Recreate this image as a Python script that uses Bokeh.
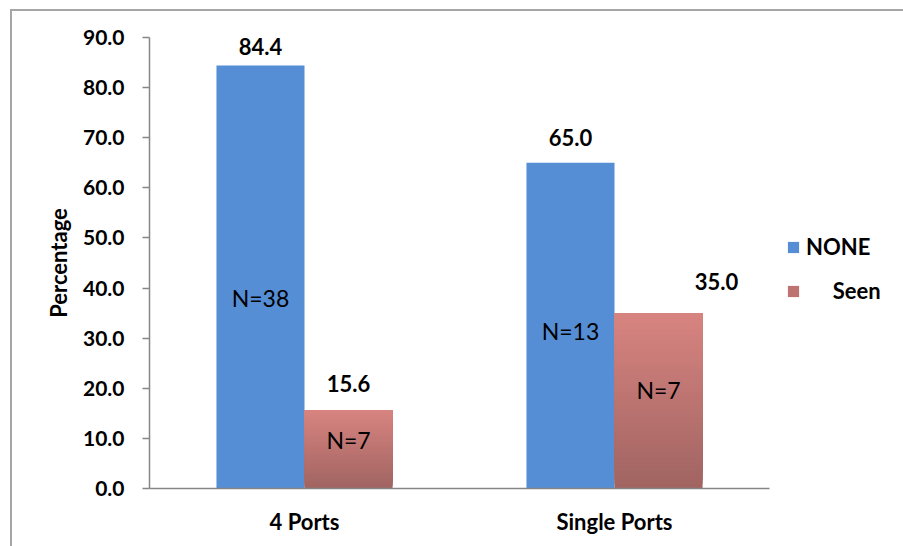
import numpy as np
from bokeh.plotting import figure
from bokeh.models import (ColumnDataSource, FixedTicker, Legend, LegendItem,
                          NumeralTickFormatter, Range1d)
from bokeh.core.properties import value
from bokeh.embed import file_html
from bokeh.resources import INLINE

# ---------------- data ----------------
categories = ["4 Ports", "Single Ports"]
none_pct = [84.4, 65.0]
seen_pct = [15.6, 35.0]
none_n = [38, 13]
seen_n = [7, 7]
y_ticks = [0, 10, 20, 30, 40, 50, 60, 70, 80, 90]

# label placement (data units for N= labels, pixel offsets for value labels)
n_label_y_none = [38.1, 31.5]
n_label_y_seen = [9.6, 19.6]
val_dx_none = [0, 0]
val_dy_none = [19, 25]
val_dx_seen = [0, 58]
val_dy_seen = [27, 32]

# ---------------- style ----------------
FONT = "Lato"
BLUE = "#558ed5"
SEEN_TOP = np.array([216, 132, 128])
SEEN_BOT = np.array([160, 100, 97])
AXIS_COL = "#868686"
BAR_W = 0.284

cat_x = [i + 0.5 for i in range(len(categories))]
none_x = [c - BAR_W / 2 for c in cat_x]
seen_x = [c + BAR_W / 2 for c in cat_x]

p = figure(frame_width=620, frame_height=451, x_range=Range1d(0, len(categories)),
           y_range=Range1d(0, 90), output_backend="svg", toolbar_location=None,
           min_border_left=149, min_border_right=134, min_border_top=37,
           min_border_bottom=58)
p.outline_line_color = None
p.grid.grid_line_color = None
p.background_fill_color = "white"
p.border_fill_color = None
# outer chart frame (left and top edges visible, as in the reference)
p.styles = {
    "background": "linear-gradient(#a6a6a6,#a6a6a6) 10px 9px / 2px 100% no-repeat, "
                  "linear-gradient(#a6a6a6,#a6a6a6) 10px 9px / 100% 2px no-repeat, white"
}

# NONE bars
src_none = ColumnDataSource(dict(x=none_x, top=none_pct))
r_none = p.vbar(x="x", top="top", bottom=0, width=BAR_W, source=src_none,
                fill_color=BLUE, line_color=None)

# Seen bars with vertical gradient (overlapping slices of each bar's own value)
NS = 40
l, r, b, t, c = [], [], [], [], []
for xc, v in zip(seen_x, seen_pct):
    for k in range(NS):
        frac = (k + 0.5) / NS
        col = SEEN_BOT * (1 - frac) + SEEN_TOP * frac
        l.append(xc - BAR_W / 2)
        r.append(xc + BAR_W / 2)
        b.append(v * k / NS)
        t.append(v)
        c.append("#%02x%02x%02x" % tuple(int(round(q)) for q in col))
src_seen = ColumnDataSource(dict(left=l, right=r, bottom=b, top=t, color=c))
r_seen = p.quad(left="left", right="right", bottom="bottom", top="top",
                fill_color="color", line_color=None, source=src_seen)

# value labels
p.text(x=none_x, y=none_pct, text=["%.1f" % v for v in none_pct],
       x_offset=val_dx_none, y_offset=[-d for d in val_dy_none],
       text_font=value(FONT), text_font_style="bold", text_font_size="22px",
       text_align="center", text_baseline="middle", text_color="black")
p.text(x=seen_x, y=seen_pct, text=["%.1f" % v for v in seen_pct],
       x_offset=val_dx_seen, y_offset=[-d for d in val_dy_seen],
       text_font=value(FONT), text_font_style="bold", text_font_size="22px",
       text_align="center", text_baseline="middle", text_color="black")

# N= labels
p.text(x=none_x, y=n_label_y_none, text=["N=%d" % n for n in none_n],
       text_font=value(FONT), text_font_size="23px", text_align="center",
       text_baseline="middle", text_color="black")
p.text(x=seen_x, y=n_label_y_seen, text=["N=%d" % n for n in seen_n],
       text_font=value(FONT), text_font_size="23px", text_align="center",
       text_baseline="middle", text_color="black")

# axes
yax = p.yaxis[0]
yax.ticker = FixedTicker(ticks=y_ticks)
yax.formatter = NumeralTickFormatter(format="0.0")
yax.axis_label = "Percentage"
yax.axis_label_text_font = FONT
yax.axis_label_text_font_style = "bold"
yax.axis_label_text_font_size = "22px"
yax.axis_label_text_color = "black"
yax.axis_label_standoff = 8
yax.major_label_text_font = FONT
yax.major_label_text_font_style = "bold"
yax.major_label_text_font_size = "21px"
yax.major_label_text_color = "black"
yax.major_label_standoff = 18
yax.major_tick_out = 7
yax.major_tick_in = 0
yax.minor_tick_line_color = None
yax.axis_line_color = AXIS_COL
yax.axis_line_width = 1.5
yax.major_tick_line_color = AXIS_COL
yax.major_tick_line_width = 1.5

xax = p.xaxis[0]
xax.ticker = FixedTicker(ticks=cat_x)
xax.major_label_overrides = {cx: name for cx, name in zip(cat_x, categories)}
xax.major_label_text_font = FONT
xax.major_label_text_font_style = "bold"
xax.major_label_text_font_size = "22px"
xax.major_label_text_color = "black"
xax.major_label_standoff = 19
xax.major_tick_out = 0
xax.major_tick_in = 0
xax.major_tick_line_color = None
xax.minor_tick_line_color = None
xax.axis_line_color = AXIS_COL
xax.axis_line_width = 1.5

# legend (in the right-hand panel)
legend = Legend(items=[
    LegendItem(label="NONE", renderers=[r_none]),
    LegendItem(label="\u00a0\u00a0\u00a0\u00a0\u00a0Seen", renderers=[r_seen], index=NS // 2),
], location=(17, 184), orientation="vertical")
legend.label_text_font = FONT
legend.label_text_font_style = "bold"
legend.label_text_font_size = "22px"
legend.label_text_color = "black"
legend.glyph_width = 14
legend.glyph_height = 14
legend.label_height = 22
legend.spacing = 17
legend.padding = 0
legend.margin = 17
legend.label_standoff = 6
legend.border_line_color = None
legend.background_fill_alpha = 0
p.add_layout(legend, "right")

open("out.html", "w").write(file_html(p, INLINE))
